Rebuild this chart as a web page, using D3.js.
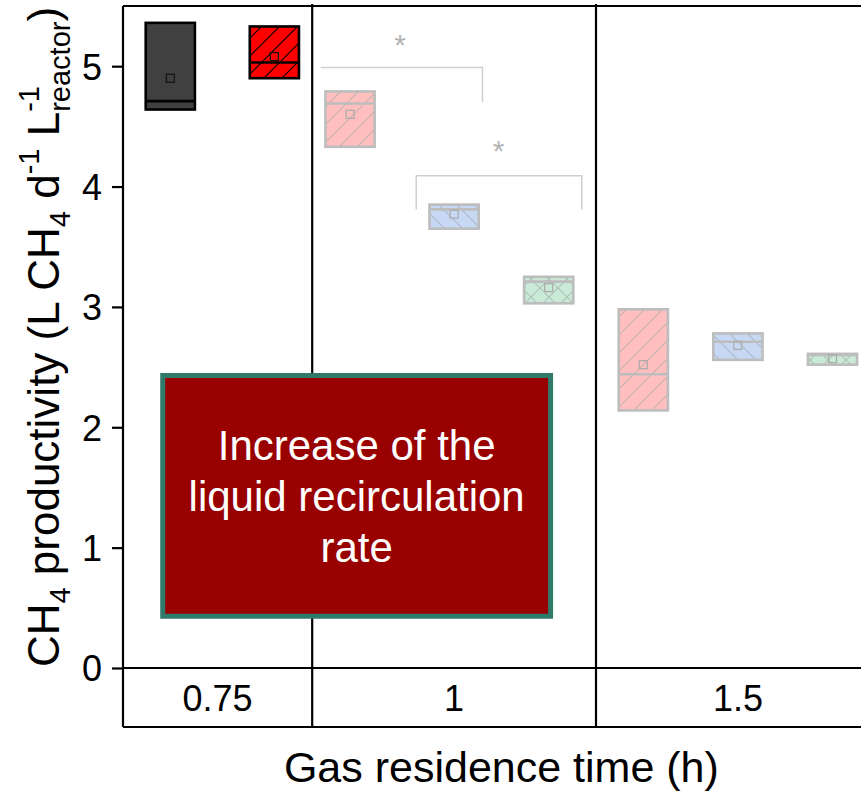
<!DOCTYPE html>
<html>
<head>
<meta charset="utf-8">
<script src="https://cdn.jsdelivr.net/npm/d3@7"></script>
<style>
  body { margin: 0; background: #fff; }
  svg { display: block; font-family: "Liberation Sans", Arial, sans-serif; }
</style>
</head>
<body>
<script>
"use strict";
// group labels on the x axis and their slot ranges
const groups = ["0.75", "1", "1.5"];
const groupStart = [0, 2, 5];
const groupEnd = [2, 5, 8];

// one entry per box (slot position, quartiles, median, mean, series)
const boxPos = [0.5, 1.6, 2.4, 3.5, 4.5, 5.5, 6.5, 7.5];
const boxLow = [4.64, 4.90, 4.33, 3.65, 3.03, 2.14, 2.56, 2.52];
const boxHigh = [5.36, 5.33, 4.79, 3.85, 3.25, 2.98, 2.78, 2.61];
const boxMedian = [4.71, 5.03, 4.69, 3.81, 3.21, 2.44, 2.71, 2.60];
const boxMean = [4.90, 5.08, 4.60, 3.77, 3.16, 2.52, 2.68, 2.57];
const boxSeries = ["black", "red", "pink", "blue", "green", "pink", "blue", "green"];

const yTicks = [0, 1, 2, 3, 4, 5];

// significance brackets: x from, x to, bar level, left leg end, right leg end
const brX1 = [2.09, 3.10];
const brX2 = [3.80, 4.85];
const brY = [4.99, 4.09];
const brLegL = [null, 3.81];
const brLegR = [4.70, 3.81];
const starX = [2.93, 3.97];
const starY = [5.20, 4.32];

const note = ["Increase of the", "liquid recirculation", "rate"];

const style = {
	black: {fill: "#404040", stroke: "#000", hatch: null},
	red: {fill: "#ff0000", stroke: "#000", hatch: "fwd", hatchColor: "#000"},
	pink: {fill: "#ffbfbf", stroke: "#bdbdbd", hatch: "fwd", hatchColor: "#c4b0b0"},
	blue: {fill: "#c6d8f4", stroke: "#bdbdbd", hatch: "back", hatchColor: "#b0b8c4"},
	green: {fill: "#c8ead7", stroke: "#bdbdbd", hatch: "cross", hatchColor: "#b0c0b6"}
};

const W = 861, H = 793;
const svg = d3.select("body").append("svg").attr("width", W).attr("height", H);

const x = d3.scaleLinear().domain([0, 8]).range([123, 879.8]);
const y = d3.scaleLinear().domain([0, 5.5]).range([668, 6]);
const tableBottom = 727;

// hatch patterns
const defs = svg.append("defs");
Object.keys(style).forEach(k => {
	const s = style[k];
	if (!s.hatch) return;
	const p = defs.append("pattern").attr("id", "h-" + k)
		.attr("patternUnits", "userSpaceOnUse").attr("width", 18).attr("height", 18);
	const fwd = "M-4.5,4.5L4.5,-4.5M0,18L18,0M13.5,22.5L22.5,13.5";
	const back = "M-4.5,13.5L4.5,22.5M0,0L18,18M13.5,-4.5L22.5,4.5";
	const d = s.hatch === "fwd" ? fwd : s.hatch === "back" ? back : fwd + back;
	p.append("path").attr("d", d).attr("stroke", s.hatchColor).attr("stroke-width", 1.1).attr("fill", "none");
});

// boxes
const half = 0.26;
const boxes = svg.append("g").selectAll("g").data(boxPos).join("g");
boxes.each(function (p, i) {
	const g = d3.select(this), s = style[boxSeries[i]];
	const x0 = x(p - half), x1 = x(p + half);
	g.append("rect").attr("x", x0).attr("y", y(boxHigh[i]))
		.attr("width", x1 - x0).attr("height", y(boxLow[i]) - y(boxHigh[i]))
		.attr("fill", s.fill);
	if (s.hatch) {
		g.append("rect").attr("x", x0).attr("y", y(boxHigh[i]))
			.attr("width", x1 - x0).attr("height", y(boxLow[i]) - y(boxHigh[i]))
			.attr("fill", "url(#h-" + boxSeries[i] + ")");
	}
	g.append("rect").attr("x", x0).attr("y", y(boxHigh[i]))
		.attr("width", x1 - x0).attr("height", y(boxLow[i]) - y(boxHigh[i]))
		.attr("fill", "none").attr("stroke", s.stroke).attr("stroke-width", 2.6);
	g.append("line").attr("x1", x0).attr("x2", x1)
		.attr("y1", y(boxMedian[i])).attr("y2", y(boxMedian[i]))
		.attr("stroke", s.stroke).attr("stroke-width", 2.6);
	g.append("rect").attr("x", x(p) - 4).attr("y", y(boxMean[i]) - 4)
		.attr("width", 8).attr("height", 8).attr("fill", "none")
		.attr("stroke", s.stroke === "#000" ? "#111" : "#aaaaaa").attr("stroke-width", 1.2);
});

// brackets and stars
const br = svg.append("g").attr("stroke", "#cfcfcf").attr("stroke-width", 1.5).attr("fill", "none");
brX1.forEach((b, i) => {
	let d = "M" + x(b) + "," + y(brY[i]) + "L" + x(brX2[i]) + "," + y(brY[i]);
	if (brLegL[i] !== null) d = "M" + x(b) + "," + y(brLegL[i]) + "L" + x(b) + "," + y(brY[i]) + "L" + x(brX2[i]) + "," + y(brY[i]);
	if (brLegR[i] !== null) d += "L" + x(brX2[i]) + "," + y(brLegR[i]);
	br.append("path").attr("d", d);
});
svg.append("g").selectAll("text").data(starX).join("text")
	.attr("x", d => x(d)).attr("y", (d, i) => y(starY[i]) + 13)
	.attr("text-anchor", "middle").attr("font-size", 30).attr("fill", "#b3b3b3")
	.text("*");

// frame
const frame = svg.append("g").attr("stroke", "#000").attr("stroke-width", 2.2).attr("fill", "none");
frame.append("line").attr("x1", x(0)).attr("x2", W).attr("y1", y(5.5)).attr("y2", y(5.5));
frame.append("line").attr("x1", x(0)).attr("x2", x(0)).attr("y1", y(5.5)).attr("y2", tableBottom);
frame.append("line").attr("x1", x(0)).attr("x2", W).attr("y1", y(0)).attr("y2", y(0));
frame.append("line").attr("x1", x(0)).attr("x2", W).attr("y1", tableBottom).attr("y2", tableBottom);
groupEnd.forEach(e => {
	frame.append("line").attr("x1", x(e)).attr("x2", x(e)).attr("y1", y(5.5) - 2).attr("y2", tableBottom);
});

// y axis
const yAxis = svg.append("g").attr("transform", "translate(" + x(0) + ",0)")
	.call(d3.axisLeft(y).tickValues(yTicks).tickFormat(d3.format("d")).tickSize(11).tickPadding(10));
yAxis.select(".domain").remove();
yAxis.selectAll(".tick line").attr("stroke", "#000").attr("stroke-width", 2.2);
yAxis.selectAll(".tick text").attr("font-size", 36).attr("fill", "#000")
	.attr("font-family", "Liberation Sans, Arial, sans-serif").attr("dy", "0.36em");

// group labels
svg.append("g").selectAll("text").data(groups).join("text")
	.attr("x", (d, i) => x((groupStart[i] + groupEnd[i]) / 2)).attr("y", 711)
	.attr("text-anchor", "middle").attr("font-size", 36).attr("fill", "#000")
	.text(d => d);

// axis titles
svg.append("text").attr("x", x(4)).attr("y", 782).attr("text-anchor", "middle")
	.attr("font-size", 43).attr("fill", "#000").text("Gas residence time (h)");

const yt = svg.append("text").attr("transform", "translate(59,337) rotate(-90)")
	.attr("text-anchor", "middle").attr("font-size", 44).attr("fill", "#000");
yt.append("tspan").text("CH");
yt.append("tspan").attr("font-size", 29).attr("dy", 11).text("4");
yt.append("tspan").attr("dy", -11).text(" productivity (L CH");
yt.append("tspan").attr("font-size", 29).attr("dy", 11).text("4");
yt.append("tspan").attr("dy", -11).text(" d");
yt.append("tspan").attr("font-size", 29).attr("dy", -20).text("-1");
yt.append("tspan").attr("dy", 20).text(" L");
const sup = yt.append("tspan").attr("font-size", 29).attr("dy", -20).text("-1");
const supLen = sup.node().getComputedTextLength();
yt.append("tspan").attr("font-size", 29).attr("dx", -supLen).attr("dy", 31).text("reactor");
yt.append("tspan").attr("dy", -11).text(")");

// annotation box
const nb = {x0: 0.42, x1: 4.52, y0: 2.43, y1: 0.43};
svg.append("rect").attr("x", x(nb.x0)).attr("y", y(nb.y0))
	.attr("width", x(nb.x1) - x(nb.x0)).attr("height", y(nb.y1) - y(nb.y0))
	.attr("fill", "#990000").attr("stroke", "#2f7a6a").attr("stroke-width", 5);
svg.append("g").selectAll("text").data(note).join("text")
	.attr("x", x((nb.x0 + nb.x1) / 2)).attr("y", (d, i) => 460 + i * 51)
	.attr("text-anchor", "middle").attr("font-size", 42).attr("fill", "#fff")
	.text(d => d);
</script>
</body>
</html>
